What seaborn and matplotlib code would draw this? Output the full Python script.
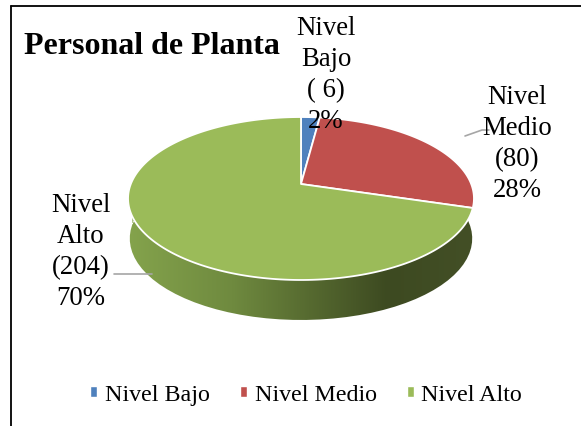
import numpy as np
import seaborn as sns
import matplotlib.pyplot as plt
from matplotlib.patches import Polygon, Rectangle
from matplotlib.colors import LinearSegmentedColormap

categories = ['Nivel Bajo', 'Nivel Medio', 'Nivel Alto']
values = [6, 80, 204]
percents = ['2%', '28%', '70%']
colors = ['#4f81bd', '#c0504d', '#9bbb59']

sns.set_theme(style='white')
plt.rcParams['font.family'] = ['Liberation Serif', 'DejaVu Serif']

# perspective of the tilted pie, unit circle -> pixels
CX, CY = 301, 185
K, A, B = 0.178, 78.9, 170.2
DEPTH = 40


def project(theta, r=1.0):
    x = r * np.cos(np.radians(theta))
    y = r * np.sin(np.radians(theta))
    d = 1 + K * y
    return CX + B * x / d, CY - A * y / d


fig = plt.figure(figsize=(5.81, 4.27), dpi=100)
ax = fig.add_axes([0, 0, 1, 1])
wedges, _ = ax.pie(values, colors=sns.color_palette(colors), startangle=90, counterclock=False)
ax.set_aspect('auto')
ax.axis('off')

# side wall, green slice only reaches the front
alto = wedges[2]
front = np.linspace(alto.theta1, 180, 120)
fx, fy = project(front)
low_x = CX + (fx - CX) * 0.99
low_y = fy + DEPTH
wall = Polygon(np.r_[np.c_[fx, fy], np.c_[low_x, low_y][::-1]], closed=True, fc='none', ec='none')
ax.add_patch(wall)
cmap = LinearSegmentedColormap.from_list('wall', [(0, '#84a34c'), (0.3, '#6f8a3f'), (0.75, '#3d4a21'), (1, '#434f26')])
img = ax.imshow(np.linspace(0, 1, 256)[None, :], extent=(128, 474, 325, 200), cmap=cmap, aspect='auto', zorder=1)
img.set_clip_path(wall)
ax.set_xlim(0, 581)
ax.set_ylim(427, 0)

# top face, rebuilt from the angles ax.pie gave
for w in wedges:
    th = np.linspace(w.theta1, w.theta2, 200)
    px, py = project(th)
    pts = np.r_[[[CX, CY]], np.c_[px, py]]
    ax.add_patch(Polygon(pts, closed=True, fc=w.get_facecolor(), ec='white', lw=1.3, zorder=2, joinstyle='round'))
    w.set_visible(False)

# frame
ax.plot([10.5, 10.5], [427, 7], color='black', lw=1.3, zorder=5)
ax.plot([10.5, 581], [7, 7], color='black', lw=1.3, zorder=5)

ax.text(24, 46, 'Personal de Planta', fontsize=23, fontweight='bold', color='black', va='center', ha='left', zorder=6)

# data labels
label_pos = [(326, 75), (517, 144), (81, 252)]
for cat, val, pct, (lx, ly), fmt in zip(categories, values, percents, label_pos, ['( {})', '({})', '({})']):
    a, b = cat.split()
    ax.text(lx, ly, f'{a}\n{b}\n{fmt.format(val)}\n{pct}', fontsize=19.3, color='black', ha='center', va='center',
            linespacing=1.32, zorder=6)

ax.plot([465, 482, 489], [137, 131, 131], color='#a6a6a6', lw=1.2, zorder=3)
ax.plot([114, 152], [275, 275], color='#a6a6a6', lw=1.2, zorder=3)

# legend
handles = [Rectangle((0, 0), 1, 1, fc=c) for c in colors]
ax.legend(handles, categories, loc='center', bbox_to_anchor=(306 / 581, 1 - 396 / 427), ncol=3, frameon=False,
          fontsize=17.3, labelcolor='black', handlelength=0.32, handleheight=0.32, handletextpad=0.3, columnspacing=1.25)

fig.savefig('out.png', dpi=100)
